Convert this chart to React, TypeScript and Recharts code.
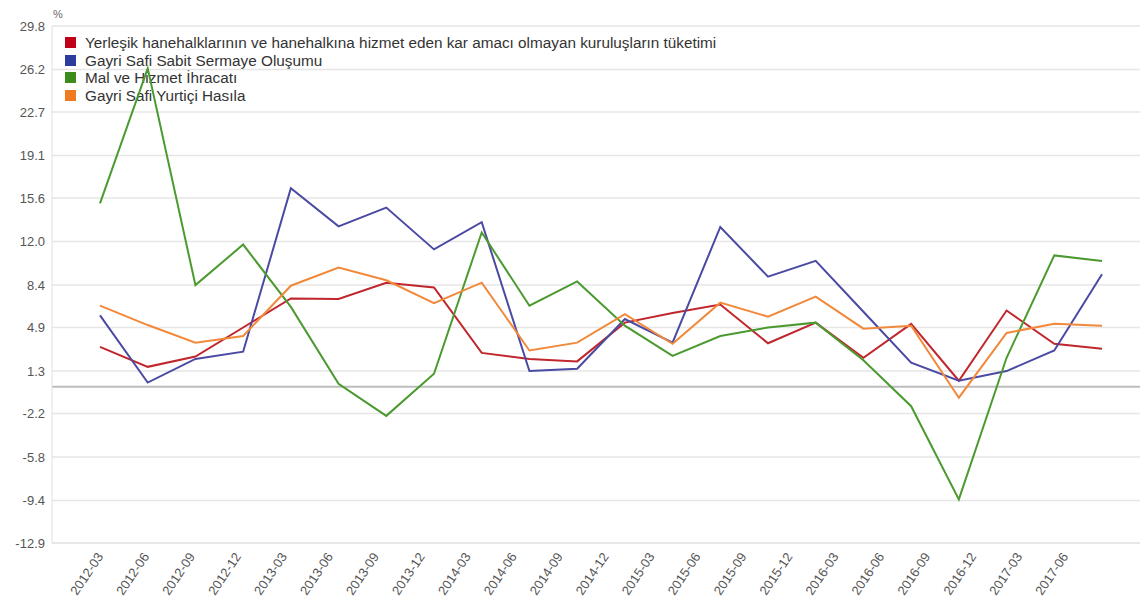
import React from "react";
import { LineChart, Line, XAxis, YAxis, CartesianGrid, ReferenceLine } from "recharts";

const dates = ["2012-03","2012-06","2012-09","2012-12","2013-03","2013-06","2013-09","2013-12","2014-03","2014-06","2014-09","2014-12","2015-03","2015-06","2015-09","2015-12","2016-03","2016-06","2016-09","2016-12","2017-03","2017-06"];

const consumption = [3.3, 1.65, 2.5, 4.9, 7.3, 7.25, 8.6, 8.2, 2.8, 2.3, 2.1, 5.3, 6.1, 6.8, 3.6, 5.3, 2.4, 5.2, 0.5, 6.3, 3.55, 3.15];
const investment = [5.9, 0.35, 2.3, 2.9, 16.4, 13.25, 14.8, 11.35, 13.6, 1.3, 1.5, 5.6, 3.65, 13.2, 9.1, 10.4, 6.2, 2.0, 0.5, 1.3, 3.0, 9.3];
const exportsSeries = [15.15, 26.3, 8.4, 11.75, 6.6, 0.25, -2.4, 1.08, 12.75, 6.7, 8.7, 5.05, 2.55, 4.2, 4.9, 5.3, 2.2, -1.6, -9.3, 2.4, 10.85, 10.4];
const gdp = [6.7, 5.1, 3.65, 4.2, 8.35, 9.85, 8.8, 6.9, 8.6, 3.0, 3.65, 6.0, 3.55, 6.95, 5.8, 7.45, 4.8, 5.05, -0.9, 4.45, 5.2, 5.05];

const yTicks = [-12.9, -9.4, -5.8, -2.2, 1.3, 4.9, 8.4, 12.0, 15.6, 19.1, 22.7, 26.2, 29.8];

const seriesNames = [
  "Yerleşik hanehalklarının ve hanehalkına hizmet eden kar amacı olmayan kuruluşların tüketimi",
  "Gayri Safi Sabit Sermaye Oluşumu",
  "Mal ve Hizmet İhracatı",
  "Gayri Safi Yurtiçi Hasıla",
];
const seriesKeys = ["consumption", "investment", "exports", "gdp"];
const seriesColors = ["#c0262c", "#4a4aa3", "#4b9a2f", "#f2893a"];
const legendColors = ["#c00018", "#2c3c9c", "#3c8c1c", "#f07a20"];

const data = dates.map((d, i) => ({
  date: d,
  consumption: consumption[i],
  investment: investment[i],
  exports: exportsSeries[i],
  gdp: gdp[i],
}));

const FONT = '"Liberation Sans", Arial, Helvetica, sans-serif';

const XTick = (props: any) => {
  const { x, y, payload } = props;
  return (
    <text
      x={x}
      y={y}
      transform={`rotate(-56 ${x} ${y})`}
      textAnchor="end"
      dominantBaseline="central"
      fontSize={13}
      fontFamily={FONT}
      fill="#555"
    >
      {payload.value}
    </text>
  );
};

export default function App() {
  return (
    <div style={{ position: "relative", width: 1140, height: 597, fontFamily: FONT }}>
      <div
        style={{
          position: "absolute",
          left: 57,
          top: 26,
          fontSize: 15.3,
          lineHeight: "17.6px",
          color: "#333",
          whiteSpace: "nowrap",
        }}
      >
        {seriesNames.map((n, i) => (
          <div key={n} style={{ display: "flex", alignItems: "center", height: 17.6 }}>
            <span
              style={{
                display: "inline-block",
                width: 11,
                height: 11,
                background: legendColors[i],
                marginRight: 9,
              }}
            />
            <span>{n}</span>
          </div>
        ))}
      </div>
      <span style={{ position: "absolute", left: 45, top: 0, fontSize: 11, color: "#666" }}>%</span>
      <LineChart
        width={1140}
        height={597}
        data={data}
        margin={{ top: 18, right: 5, left: 0, bottom: 0 }}
      >
        <CartesianGrid vertical={false} stroke="#e6e6e6" strokeWidth={1.5} />
        <XAxis
          xAxisId="lbl"
          dataKey="date"
          height={62}
          padding={{ left: 48, right: 78 }}
          tick={<XTick />}
          tickLine={false}
          tickSize={0}
          tickMargin={11}
          interval={0}
          axisLine={{ stroke: "#e6e6e6", strokeWidth: 1.5 }}
        />
        <XAxis dataKey="date" hide height={0} padding={{ left: 48, right: 41 }} />
        <YAxis
          width={44}
          domain={[-12.9, 29.8]}
          ticks={yTicks}
          interval={0}
          tickFormatter={(v: number) => v.toFixed(1)}
          tickLine={false}
          tickSize={0}
          tickMargin={7}
          axisLine={{ stroke: "#e0e0e0" }}
          tick={{ fontSize: 13, fill: "#555", fontFamily: FONT }}
        />
        <ReferenceLine y={0} stroke="#bdbdbd" strokeWidth={2} />
        {seriesKeys.map((k, i) => (
          <Line
            key={k}
            type="linear"
            dataKey={k}
            name={seriesNames[i]}
            stroke={seriesColors[i]}
            strokeWidth={2}
            dot={false}
            isAnimationActive={false}
          />
        ))}
      </LineChart>
    </div>
  );
}
